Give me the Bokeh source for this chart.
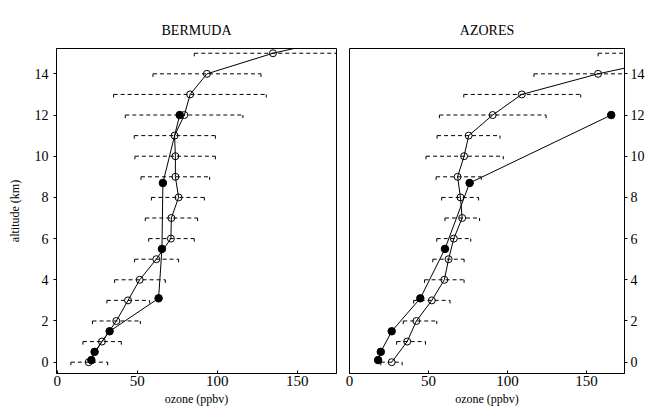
from bokeh.plotting import figure
from bokeh.layouts import row
from bokeh.models import Range1d, FixedTicker
from bokeh.embed import file_html
from bokeh.resources import INLINE

FONT = "Liberation Serif"

# ---------------- data ----------------
alt_open = [0, 1, 2, 3, 4, 5, 6, 7, 8, 9, 10, 11, 12, 13, 14, 15, 16]
bermuda_open = [19.6, 27.9, 36.9, 44.2, 51.5, 61.9, 71.0, 71.3, 75.8, 73.8, 73.8, 73.3, 79.4, 83.0, 93.5, 134.8, 192.0]
bermuda_lo = [8.5, 16.0, 22.0, 31.0, 35.8, 48.3, 57.1, 55.0, 58.8, 52.3, 48.5, 48.1, 42.5, 35.2, 59.8, 85.6]
bermuda_hi = [31.5, 40.0, 51.9, 57.7, 67.5, 75.8, 85.6, 87.7, 91.9, 95.2, 98.8, 98.8, 116.0, 130.6, 127.3, 185.0]

azores_alt_open = [0, 1, 2, 3, 4, 5, 6, 7, 8, 9, 10, 11, 12, 13, 14, 15]
azores_open = [26.7, 36.5, 42.3, 52.1, 60.0, 62.7, 66.0, 71.3, 70.2, 68.4, 72.5, 75.4, 90.6, 109.0, 157.3, 218.0]
azores_lo = [19.8, 29.8, 34.0, 40.6, 47.5, 52.7, 55.2, 60.4, 58.3, 54.8, 48.4, 55.4, 56.9, 72.3, 116.7, 157.3]
azores_hi = [33.3, 48.1, 55.2, 63.6, 72.5, 72.5, 76.7, 82.3, 81.7, 83.4, 97.3, 95.2, 124.4, 146.3, 200.0, 260.0]

alt_filled = [0.1, 0.5, 1.5, 3.1, 5.5, 8.7, 12.0]
bermuda_filled = [21.3, 23.3, 32.7, 63.3, 65.4, 66.0, 76.5]
azores_filled = [18.1, 19.8, 26.7, 44.8, 60.4, 76.0, 165.6]

x_ticks = [0, 50, 100, 150]
y_ticks = [0, 2, 4, 6, 8, 10, 12, 14]

H = 410
TOP = 48
FRAME_H = 325
CAP = 0.15


def panel(title, a_open, v_open, lo, hi, v_filled, xr, side, width, mbl, mbr):
    p = figure(width=width, height=H, x_range=Range1d(*xr), y_range=Range1d(-0.55, 15.23),
               output_backend="svg", toolbar_location=None, y_axis_location=side,
               min_border_left=mbl, min_border_right=mbr, min_border_top=TOP,
               min_border_bottom=H - TOP - FRAME_H, title=title)
    p.title.text_font = FONT
    p.title.text_font_size = "14px"
    p.title.text_font_style = "normal"
    p.title.text_color = "black"
    p.title.align = "center"
    p.title.standoff = 22
    p.grid.visible = False
    p.outline_line_color = "black"
    p.outline_line_width = 1
    p.background_fill_color = "white"

    xa = p.xaxis[0]
    xa.ticker = FixedTicker(ticks=x_ticks)
    xa.major_tick_in = 3
    xa.major_tick_out = 0
    xa.minor_tick_line_color = None
    xa.major_label_text_font = FONT
    xa.major_label_text_font_size = "15px"
    xa.major_label_text_color = "black"
    xa.major_label_standoff = 2
    xa.axis_label = "ozone (ppbv)"
    xa.axis_label_text_font = FONT
    xa.axis_label_text_font_size = "12px"
    xa.axis_label_text_font_style = "normal"
    xa.axis_label_text_color = "black"
    xa.axis_label_standoff = 3
    xa.axis_line_color = "black"
    xa.major_tick_line_color = "black"

    ya = p.yaxis[0]
    ya.ticker = FixedTicker(ticks=y_ticks)
    ya.major_tick_in = 0
    ya.major_tick_out = 3
    ya.minor_tick_line_color = None
    ya.major_label_text_font = FONT
    ya.major_label_text_font_size = "14px"
    ya.major_label_text_color = "black"
    ya.major_label_standoff = 5 if side == "left" else 3
    ya.axis_line_color = "black"
    ya.major_tick_line_color = "black"
    if side == "left":
        ya.axis_label = "altitude (km)"
        ya.axis_label_text_font = FONT
        ya.axis_label_text_font_size = "12px"
        ya.axis_label_text_font_style = "normal"
        ya.axis_label_text_color = "black"
        ya.axis_label_standoff = 10

    n = len(lo)
    bar_y = a_open[:n]
    cap_y = [y - CAP for y in bar_y]
    p.segment(x0=lo, y0=bar_y, x1=hi, y1=bar_y, line_color="black", line_width=1, line_dash="4 3")
    p.segment(x0=lo, y0=bar_y, x1=lo, y1=cap_y, line_color="black", line_width=1)
    p.segment(x0=hi, y0=bar_y, x1=hi, y1=cap_y, line_color="black", line_width=1)

    p.line(v_open, a_open, line_color="black", line_width=1)
    p.scatter(v_open, a_open, size=7, marker="circle", fill_color=None, line_color="black", line_width=1)

    p.line(v_filled, alt_filled, line_color="black", line_width=1)
    p.scatter(v_filled, alt_filled, size=7.5, marker="circle", fill_color="black", line_color="black")
    return p


left = panel("BERMUDA", alt_open, bermuda_open, bermuda_lo, bermuda_hi, bermuda_filled,
             (-0.5, 174.5), "left", 342, 56, 6)
right = panel("AZORES", azores_alt_open, azores_open, azores_lo, azores_hi, azores_filled,
              (0.0, 174.0), "right", 305, 7, 20)

layout = row(left, right)
open("out.html", "w").write(file_html(layout, INLINE))
